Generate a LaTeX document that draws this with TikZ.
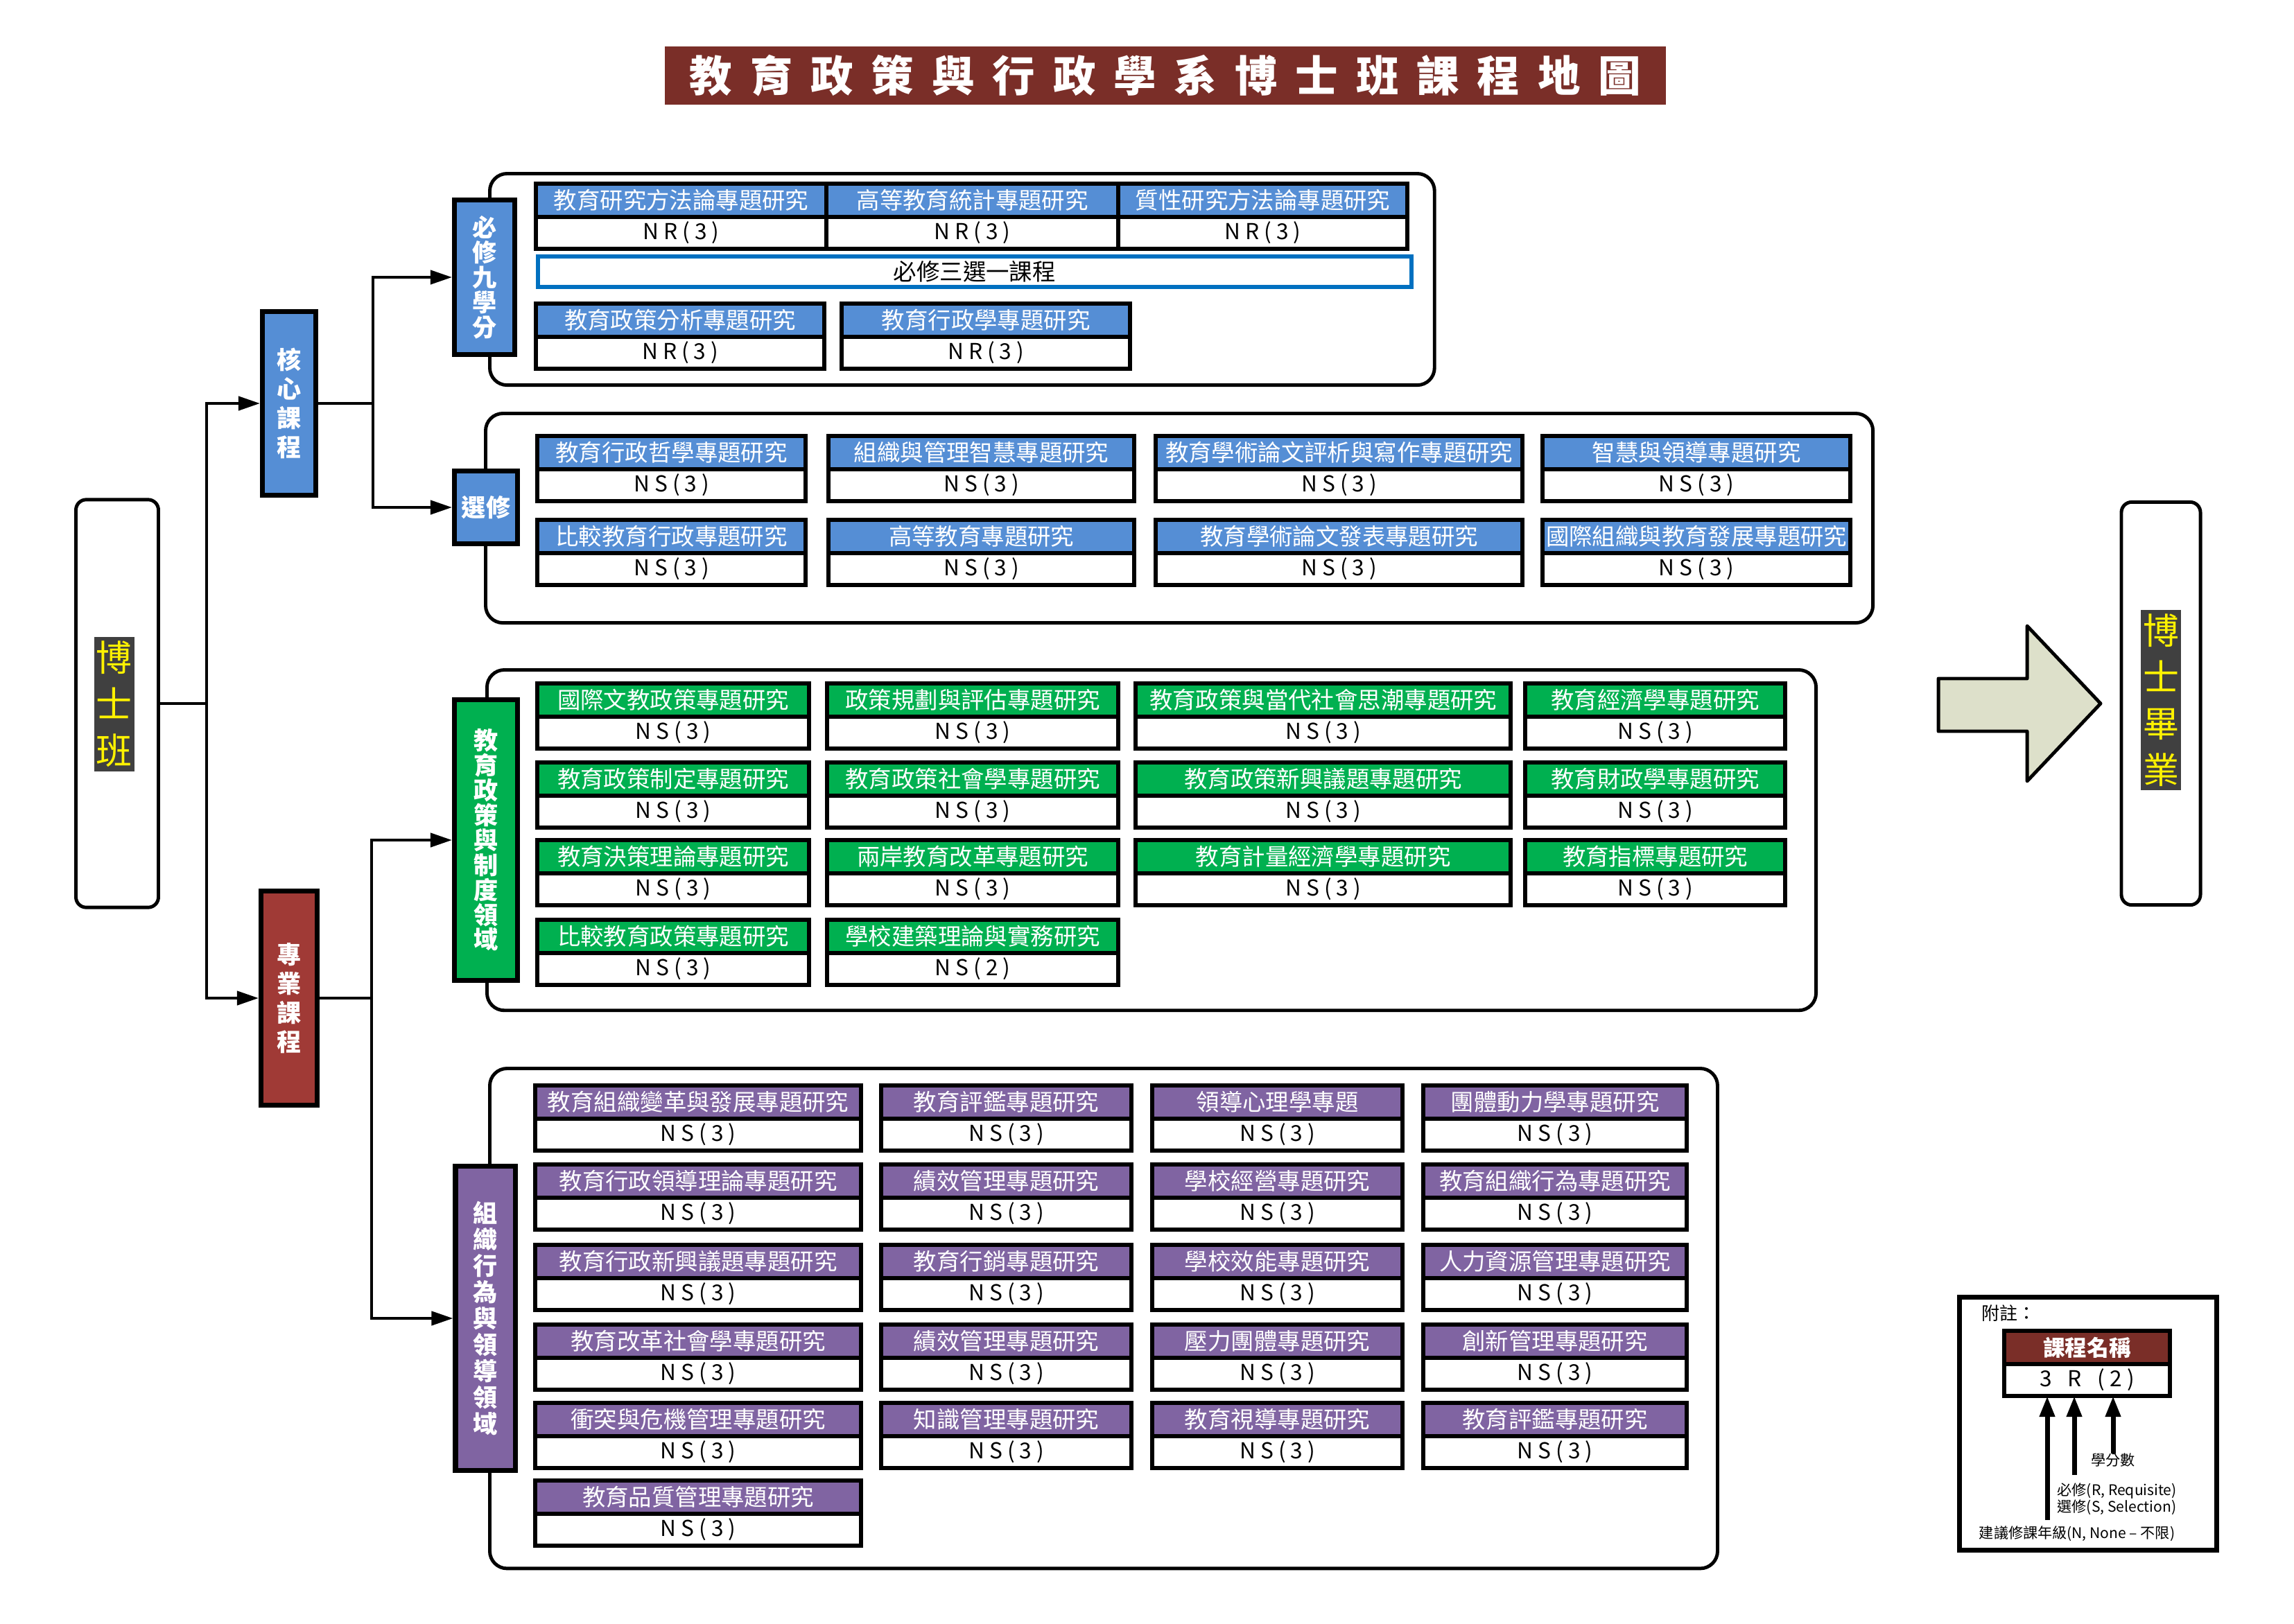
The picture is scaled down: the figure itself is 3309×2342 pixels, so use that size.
\documentclass[tikz,border=0pt]{standalone}
\usepackage{fontspec}
\setmainfont{Noto Sans CJK TC}
\newfontfamily\valfont[LetterSpace=22]{Noto Sans CJK TC}
\newfontfamily\ttlfont[LetterSpace=42]{Noto Sans CJK TC}
\usepackage{tikz}
\usetikzlibrary{positioning,arrows.meta}

\definecolor{hblue}{RGB}{85,142,213}
\definecolor{hgreen}{RGB}{0,176,80}
\definecolor{hpurple}{RGB}{128,100,162}
\definecolor{titlered}{RGB}{122,46,40}
\definecolor{profred}{RGB}{160,58,54}
\definecolor{selblue}{RGB}{0,112,192}
\definecolor{darkbg}{RGB}{64,64,64}
\definecolor{arrfill}{RGB}{221,224,202}

% one course: name, x, y, width, colour, title, credits
\newcommand{\course}[7]{%
	\node[crshead,fill=#5,minimum width=#4cm,anchor=north west] (#1) at (#2,#3) {#6};
	\node[crsval,minimum width=#4cm,below=0pt of #1] (#1v) {#7};
}

\begin{document}
\begin{tikzpicture}[x=0.01cm,y=-0.01cm,
	crshead/.style={draw,line width=1.7pt,outer sep=0pt,inner xsep=1pt,inner ysep=0pt,minimum height=0.48cm,text=white,font=\fontsize{9.5pt}{11pt}\selectfont},
	crsval/.style={draw,line width=1.7pt,outer sep=0pt,inner sep=0pt,minimum height=0.46cm,fill=white,font=\valfont\fontsize{9pt}{10pt}\selectfont},
	catbox/.style={draw,line width=2pt,text=white,align=center,inner sep=0pt,font=\bfseries\fontsize{10pt}{12pt}\selectfont},
	cont/.style={draw,line width=1.4pt,rounded corners=0.25cm,anchor=north west},
	conn/.style={line width=1.2pt},
	arr/.style={conn,-{Triangle[length=0.31cm,width=0.2cm]}},
	legarr/.style={line width=2pt,-{Triangle[length=0.3cm,width=0.21cm]}},
	endbox/.style={draw,line width=1.4pt,rounded corners=0.15cm},
	endtxt/.style={fill=darkbg,text=yellow,align=center,inner xsep=0.03cm,inner ysep=0.06cm,font=\fontsize{14.8pt}{19pt}\selectfont},
	legtxt/.style={inner sep=0pt,font=\fontsize{6pt}{6.8pt}\selectfont}]
	
	\useasboundingbox (0,0) rectangle (3309,2342);
	
	% Title
	\node[fill=titlered,minimum width=14.44cm,minimum height=0.78cm,text=white,font=\ttlfont\bfseries\fontsize{17.5pt}{19pt}\selectfont] (title) at (1681,109) {教育政策與行政學系博士班課程地圖\hspace{-0.42em}};
	
	% Draw the areas
	\node[cont,minimum width=13.62cm,minimum height=3.05cm] (reqarea) at (704,248) {};
	\node[cont,minimum width=20.00cm,minimum height=3.02cm] (elecarea) at (698,594) {};
	\node[cont,minimum width=19.16cm,minimum height=4.91cm] (polarea) at (700,964) {};
	\node[cont,minimum width=17.70cm,minimum height=7.21cm] (orgarea) at (704,1539) {};
	
	% Draw nodes
	\node[endbox,minimum width=1.19cm,minimum height=5.88cm] (phd) at (169,1015) {};
	\node[endtxt] (phdtxt) at (165,1016) {博\\士\\班};
	\node[catbox,fill=hblue,minimum width=0.77cm,minimum height=2.64cm] (core) at (417,582) {核\\心\\課\\程};
	\node[catbox,fill=profred,minimum width=0.81cm,minimum height=3.09cm] (prof) at (417,1440) {專\\業\\課\\程};
	\node[catbox,fill=hblue,minimum width=0.87cm,minimum height=2.22cm,font=\bfseries\fontsize{10pt}{10.2pt}\selectfont] (req) at (699,400) {必\\修\\九\\學\\分};
	\node[catbox,fill=hblue,minimum width=0.91cm,minimum height=1.05cm] (elec) at (701,732) {選修};
	\node[catbox,fill=hgreen,minimum width=0.91cm,minimum height=4.04cm,font=\bfseries\fontsize{10pt}{10.2pt}\selectfont] (pol) at (701,1212) {教\\育\\政\\策\\與\\制\\度\\領\\域};
	\node[catbox,fill=hpurple,minimum width=0.86cm,minimum height=4.39cm,font=\bfseries\fontsize{10pt}{10.8pt}\selectfont] (org) at (700,1902) {組\\織\\行\\為\\與\\領\\導\\領\\域};
	
	% Draw arcs
	\draw[conn] (phd.east) -- ++(67,0) coordinate (trunk);
	\draw[arr] (trunk) |- (core.west);
	\draw[arr] (trunk) |- (prof.west);
	\draw[arr] (core.east) -- ++(79,0) |- (req.west);
	\draw[arr] (core.east) -- ++(79,0) |- (elec.west);
	\draw[arr] (prof.east) -- ++(75,0) |- (pol.west);
	\draw[arr] (prof.east) -- ++(75,0) |- (org.west);
	
	% Required courses
	\course{ra}{773}{265}{4.19}{hblue}{教育研究方法論專題研究}{NR(3)}
	\course{rb}{1192}{265}{4.21}{hblue}{高等教育統計專題研究}{NR(3)}
	\course{rc}{1613}{265}{4.17}{hblue}{質性研究方法論專題研究}{NR(3)}
	\node[draw=selblue,line width=1.7pt,minimum width=12.59cm,minimum height=0.44cm,inner sep=0pt,anchor=north west,font=\fontsize{9.5pt}{11pt}\selectfont] (pick) at (773,367) {必修三選一課程};
	\course{rd}{773}{438}{4.16}{hblue}{教育政策分析專題研究}{NR(3)}
	\course{re}{1214}{438}{4.16}{hblue}{教育行政學專題研究}{NR(3)}
	
	% Elective courses
	\course{ea}{775}{629}{3.87}{hblue}{教育行政哲學專題研究}{NS(3)}
	\course{eb}{1195}{629}{4.41}{hblue}{組織與管理智慧專題研究}{NS(3)}
	\course{ec}{1667}{629}{5.29}{hblue}{教育學術論文評析與寫作專題研究}{NS(3)}
	\course{ed}{2225}{629}{4.44}{hblue}{智慧與領導專題研究}{NS(3)}
	\course{ee}{775}{750}{3.87}{hblue}{比較教育行政專題研究}{NS(3)}
	\course{ef}{1195}{750}{4.41}{hblue}{高等教育專題研究}{NS(3)}
	\course{eg}{1667}{750}{5.29}{hblue}{教育學術論文發表專題研究}{NS(3)}
	\course{eh}{2225}{750}{4.44}{hblue}{國際組織與教育發展專題研究}{NS(3)}
	
	% Policy and system area
	\course{pa}{775}{986}{3.92}{hgreen}{國際文教政策專題研究}{NS(3)}
	\course{pb}{1193}{986}{4.20}{hgreen}{政策規劃與評估專題研究}{NS(3)}
	\course{pc}{1638}{986}{5.41}{hgreen}{教育政策與當代社會思潮專題研究}{NS(3)}
	\course{pd}{2200}{986}{3.75}{hgreen}{教育經濟學專題研究}{NS(3)}
	\course{pe}{775}{1100}{3.92}{hgreen}{教育政策制定專題研究}{NS(3)}
	\course{pf}{1193}{1100}{4.20}{hgreen}{教育政策社會學專題研究}{NS(3)}
	\course{pg}{1638}{1100}{5.41}{hgreen}{教育政策新興議題專題研究}{NS(3)}
	\course{ph}{2200}{1100}{3.75}{hgreen}{教育財政學專題研究}{NS(3)}
	\course{pi}{775}{1212}{3.92}{hgreen}{教育決策理論專題研究}{NS(3)}
	\course{pj}{1193}{1212}{4.20}{hgreen}{兩岸教育改革專題研究}{NS(3)}
	\course{pk}{1638}{1212}{5.41}{hgreen}{教育計量經濟學專題研究}{NS(3)}
	\course{pl}{2200}{1212}{3.75}{hgreen}{教育指標專題研究}{NS(3)}
	\course{pm}{775}{1327}{3.92}{hgreen}{比較教育政策專題研究}{NS(3)}
	\course{pn}{1193}{1327}{4.20}{hgreen}{學校建築理論與實務研究}{NS(2)}
	
	% Organisation and leadership area
	\course{oa}{772}{1566}{4.70}{hpurple}{教育組織變革與發展專題研究}{NS(3)}
	\course{ob}{1271}{1566}{3.61}{hpurple}{教育評鑑專題研究}{NS(3)}
	\course{oc}{1662}{1566}{3.61}{hpurple}{領導心理學專題}{NS(3)}
	\course{od}{2053}{1566}{3.80}{hpurple}{團體動力學專題研究}{NS(3)}
	\course{oe}{772}{1680}{4.70}{hpurple}{教育行政領導理論專題研究}{NS(3)}
	\course{of}{1271}{1680}{3.61}{hpurple}{績效管理專題研究}{NS(3)}
	\course{og}{1662}{1680}{3.61}{hpurple}{學校經營專題研究}{NS(3)}
	\course{oh}{2053}{1680}{3.80}{hpurple}{教育組織行為專題研究}{NS(3)}
	\course{oi}{772}{1796}{4.70}{hpurple}{教育行政新興議題專題研究}{NS(3)}
	\course{oj}{1271}{1796}{3.61}{hpurple}{教育行銷專題研究}{NS(3)}
	\course{ok}{1662}{1796}{3.61}{hpurple}{學校效能專題研究}{NS(3)}
	\course{ol}{2053}{1796}{3.80}{hpurple}{人力資源管理專題研究}{NS(3)}
	\course{om}{772}{1911}{4.70}{hpurple}{教育改革社會學專題研究}{NS(3)}
	\course{on}{1271}{1911}{3.61}{hpurple}{績效管理專題研究}{NS(3)}
	\course{oo}{1662}{1911}{3.61}{hpurple}{壓力團體專題研究}{NS(3)}
	\course{op}{2053}{1911}{3.80}{hpurple}{創新管理專題研究}{NS(3)}
	\course{oq}{772}{2024}{4.70}{hpurple}{衝突與危機管理專題研究}{NS(3)}
	\course{or}{1271}{2024}{3.61}{hpurple}{知識管理專題研究}{NS(3)}
	\course{os}{1662}{2024}{3.61}{hpurple}{教育視導專題研究}{NS(3)}
	\course{ot}{2053}{2024}{3.80}{hpurple}{教育評鑑專題研究}{NS(3)}
	\course{ou}{772}{2136}{4.70}{hpurple}{教育品質管理專題研究}{NS(3)}
	
	% Graduation
	\draw[line width=1.4pt,fill=arrfill,line join=round] (2796,979) -- (2924,979) -- (2924,903) -- (3030,1015) -- (2924,1127) -- (2924,1055) -- (2796,1055) -- cycle;
	\node[endbox,minimum width=1.14cm,minimum height=5.81cm] (grad) at (3117,1015) {};
	\node[endtxt] (gradtxt) at (3117,1010) {博\\士\\畢\\業};
	
	% Legend
	\node[draw,line width=2pt,minimum width=3.71cm,minimum height=3.65cm,anchor=north west] (legend) at (2823,1868) {};
	\node[anchor=west,inner sep=0pt,font=\fontsize{7.4pt}{8pt}\selectfont] (note) at (2858,1895) {附註：};
	\course{leg}{2891}{1920}{2.39}{titlered}{\bfseries\fontsize{9pt}{10pt}\selectfont 課程名稱}{\rmfamily 3\hspace{0.23cm}R\hspace{0.23cm}(\hspace{0.07cm}2\hspace{0.07cm})}
	\node[legtxt] (credit) at (3048,2107) {學分數};
	\node[legtxt,anchor=west,align=left] (reqsel) at (2967,2163) {必修(R, Requisite)\\選修(S, Selection)};
	\node[legtxt] (grade) at (2996,2213) {建議修課年級(N, None – 不限)};
	\coordinate (tailn) at (2953,2193);
	\coordinate (tailr) at (2992,2128);
	\draw[legarr] (credit.north) -- (credit.north |- legv.south);
	\draw[legarr] (tailr) -- (tailr |- legv.south);
	\draw[legarr] (tailn) -- (tailn |- legv.south);
	
\end{tikzpicture}
\end{document}
